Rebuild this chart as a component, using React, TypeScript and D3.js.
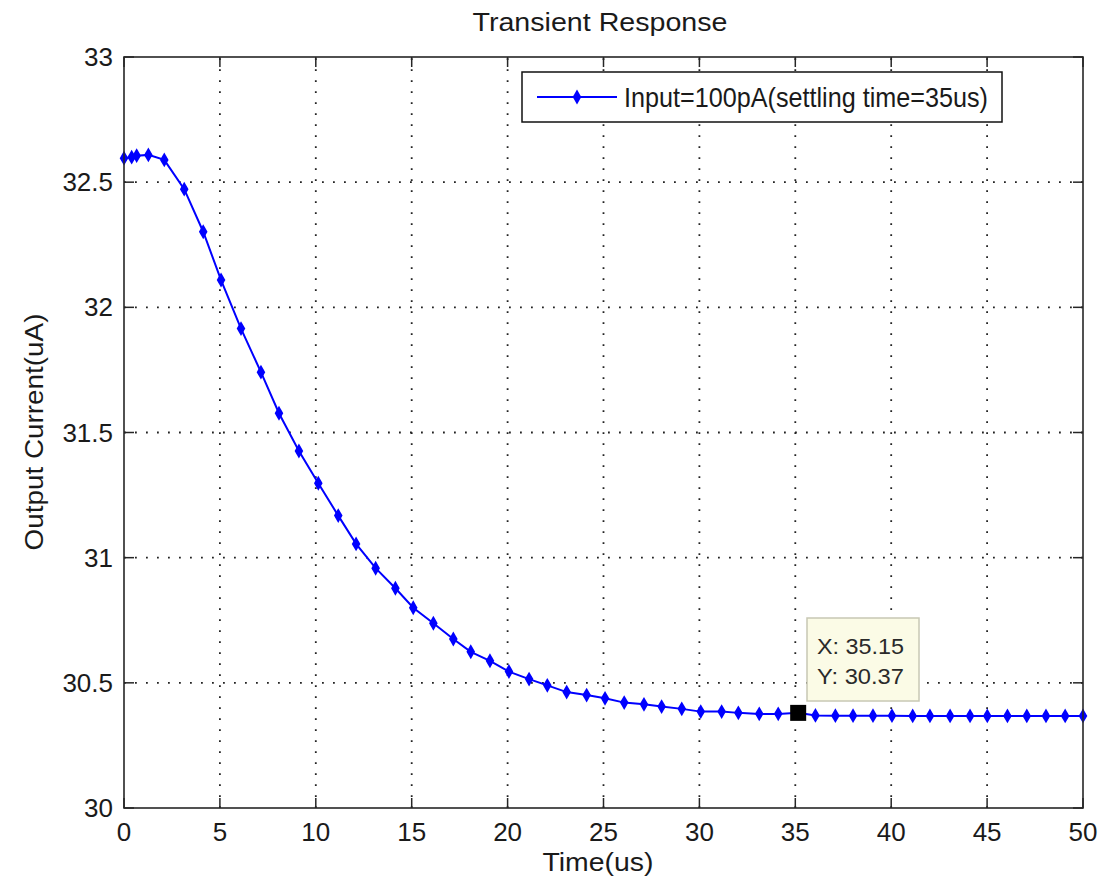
import React from "react";
import * as d3 from "d3";

const timeUs = [0, 0.4, 0.66, 1.27, 2.1, 3.14, 4.13, 5.06, 6.1, 7.14, 8.08, 9.12, 10.13, 11.17, 12.1, 13.12, 14.15, 15.08, 16.13, 17.17, 18.08, 19.08, 20.07, 21.12, 22.07, 23.08, 24.12, 25.08, 26.08, 27.11, 28.03, 29.08, 30.07, 31.16, 32.03, 33.12, 34.11, 35.15, 36.05, 37.09, 38.01, 39.05, 40.04, 41.12, 42.02, 43.07, 44.11, 45.01, 46.06, 47.07, 48.07, 49.07, 50];
const currentUA = [32.596, 32.6, 32.606, 32.609, 32.589, 32.472, 32.302, 32.109, 31.915, 31.741, 31.577, 31.426, 31.297, 31.168, 31.055, 30.958, 30.878, 30.8, 30.738, 30.675, 30.624, 30.588, 30.545, 30.515, 30.49, 30.463, 30.451, 30.438, 30.421, 30.414, 30.405, 30.396, 30.385, 30.385, 30.38, 30.376, 30.376, 30.38, 30.37, 30.369, 30.369, 30.369, 30.369, 30.368, 30.368, 30.368, 30.368, 30.368, 30.368, 30.368, 30.368, 30.368, 30.368];
const xTicks = [0, 5, 10, 15, 20, 25, 30, 35, 40, 45, 50];
const yTicks = [30, 30.5, 31, 31.5, 32, 32.5, 33];
const tipPoint = { x: 35.15, y: 30.38 };
const tipLabels = ["X: 35.15", "Y: 30.37"];
const titleText = "Transient Response";
const xLabel = "Time(us)";
const yLabel = "Output Current(uA)";
const legendLabel = "Input=100pA(settling time=35us)";

const W = 1101, H = 887;
const L = 124, R = 1083, T = 57, B = 808;
const FONT = "'Liberation Sans', Arial, sans-serif";

export default function App() {
  const x = d3.scaleLinear().domain([0, 50]).range([L, R]);
  const y = d3.scaleLinear().domain([30, 33]).range([B, T]);
  const pts = timeUs.map((t, i) => [t, currentUA[i]] as [number, number]);
  const line = d3.line<[number, number]>().x(d => x(d[0])).y(d => y(d[1]))(pts) || "";
  const diamond = d3.symbol().type(d3.symbolDiamond).size(64)() || "";
  const star = d3.symbol().type(d3.symbolCircle).size(30)() || "";
  const axisColor = "#262626";
  const tx = x(tipPoint.x), ty = y(tipPoint.y);
  return (
    <svg width={W} height={H} style={{ position: "absolute", left: 0, top: 0, background: "#fff" }} fontFamily={FONT}>
      <rect x={0} y={0} width={W} height={H} fill="#fff" />
      <rect x={L} y={T} width={R - L} height={B - T} fill="#fff" />
      {/* grid */}
      <g stroke="#222" strokeWidth={1.8} strokeDasharray="1.8 9.2">
        {xTicks.slice(1, -1).map(t => (
          <line key={"gx" + t} x1={x(t)} x2={x(t)} y1={B} y2={T} />
        ))}
        {yTicks.slice(1, -1).map(t => (
          <line key={"gy" + t} x1={L} x2={R} y1={y(t)} y2={y(t)} />
        ))}
      </g>
      {/* ticks */}
      <g stroke={axisColor} strokeWidth={1.5}>
        {xTicks.map(t => (
          <g key={"tx" + t}>
            <line x1={x(t)} x2={x(t)} y1={B} y2={B - 10} />
            <line x1={x(t)} x2={x(t)} y1={T} y2={T + 10} />
          </g>
        ))}
        {yTicks.map(t => (
          <g key={"ty" + t}>
            <line x1={L} x2={L + 10} y1={y(t)} y2={y(t)} />
            <line x1={R} x2={R - 10} y1={y(t)} y2={y(t)} />
          </g>
        ))}
      </g>
      {/* data line */}
      <path d={line} fill="none" stroke="#0000ff" strokeWidth={2} />
      <g fill="#0000ff">
        {pts.map((p, i) => (
          <g key={i} transform={`translate(${x(p[0])},${y(p[1])})`}>
            <path d={diamond} />
            <path d={star} />
          </g>
        ))}
      </g>
      {/* axes box */}
      <rect x={L} y={T} width={R - L} height={B - T} fill="none" stroke={axisColor} strokeWidth={1.6} />
      {/* tick labels */}
      <g fontSize={26} fill="#1a1a1a">
        {xTicks.map(t => (
          <text key={"lx" + t} x={x(t)} y={841} textAnchor="middle">{t}</text>
        ))}
        {yTicks.map(t => (
          <text key={"ly" + t} x={113} y={y(t) + 9} textAnchor="end">{t}</text>
        ))}
      </g>
      {/* labels */}
      <text x={600} y={31} textAnchor="middle" fontSize={25} fill="#1a1a1a" textLength={255} lengthAdjust="spacingAndGlyphs">{titleText}</text>
      <text x={598} y={871} textAnchor="middle" fontSize={26} fill="#1a1a1a" textLength={111} lengthAdjust="spacingAndGlyphs">{xLabel}</text>
      <text transform={`translate(43,432) rotate(-90)`} textAnchor="middle" fontSize={26} fill="#1a1a1a" textLength={237} lengthAdjust="spacingAndGlyphs">{yLabel}</text>
      {/* legend */}
      <rect x={522} y={72} width={480} height={50} fill="#fff" stroke="#111" strokeWidth={1.5} />
      <line x1={537} x2={617} y1={97} y2={97} stroke="#0000ff" strokeWidth={2} />
      <path d={diamond} transform="translate(577,97)" fill="#0000ff" />
      <text x={624} y={107} fontSize={28} fill="#1a1a1a" textLength={364} lengthAdjust="spacingAndGlyphs">{legendLabel}</text>
      {/* data tip */}
      <rect x={tx - 8} y={ty - 8} width={16} height={16} fill="#000" />
      <rect x={807} y={618} width={112} height={83} fill="#fbfbe6" stroke="#c8c8b4" strokeWidth={1.5} />
      <text x={817} y={654} fontSize={22} fill="#2a2a2a" textLength={87} lengthAdjust="spacingAndGlyphs">{tipLabels[0]}</text>
      <text x={817} y={684} fontSize={22} fill="#2a2a2a" textLength={87} lengthAdjust="spacingAndGlyphs">{tipLabels[1]}</text>
    </svg>
  );
}
